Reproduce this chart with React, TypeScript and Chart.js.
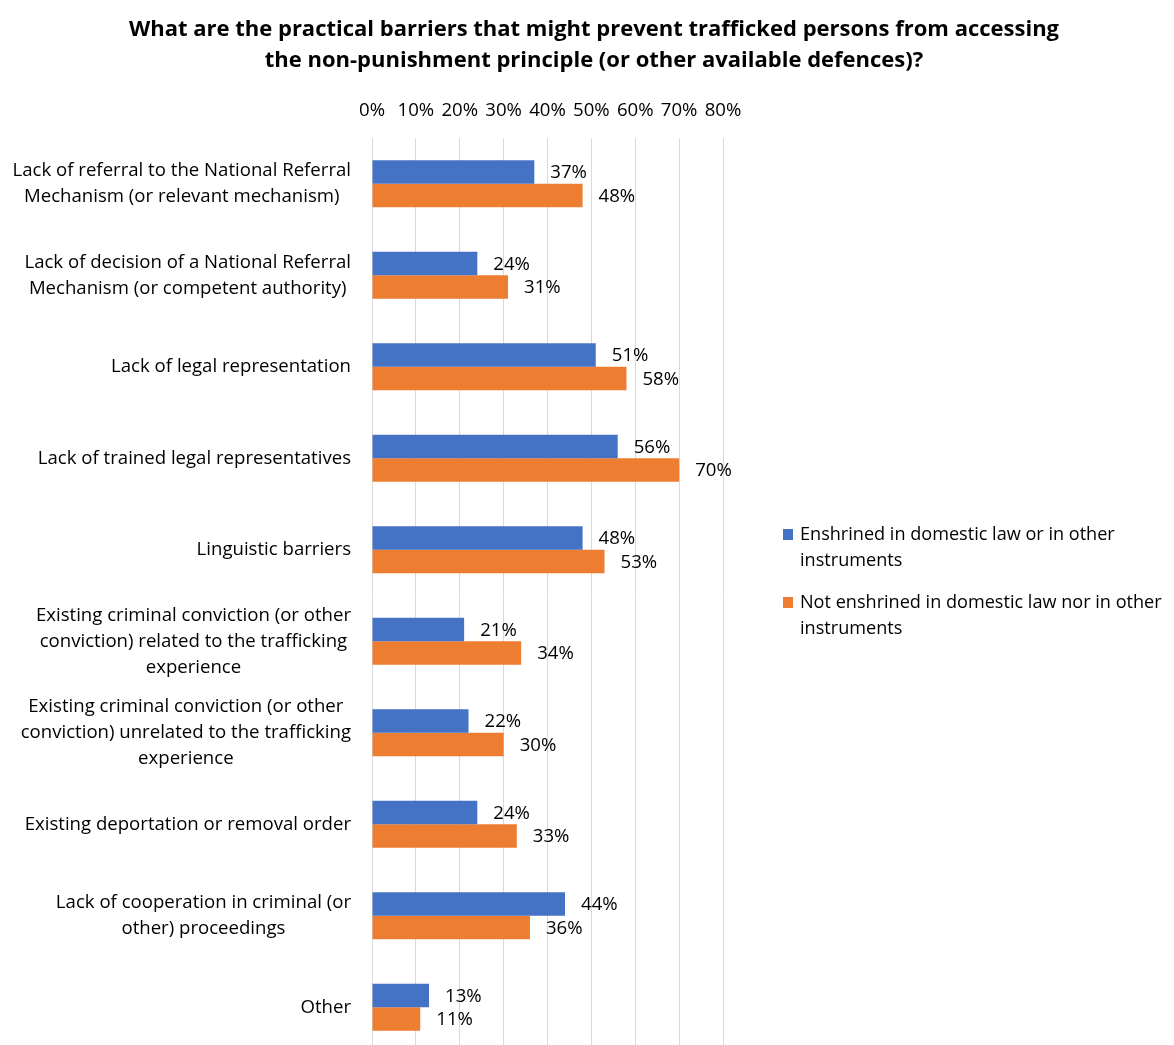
import React, { useEffect, useRef } from "react";
import { Chart, registerables } from "chart.js";

Chart.register(...registerables);

const FONT = "'Open Sans', Lato, sans-serif";
const FS = 18.6;

const titleLines = [
  "What are the practical barriers that might prevent trafficked persons from accessing",
  "the non-punishment principle (or other available defences)?",
];

const categories: string[][] = [
  ["Lack of referral to the National Referral", "Mechanism (or relevant mechanism)"],
  ["Lack of decision of a National Referral", "Mechanism (or competent authority)"],
  ["Lack of legal representation"],
  ["Lack of trained legal representatives"],
  ["Linguistic barriers"],
  ["Existing criminal conviction (or other", "conviction) related to the trafficking", "experience"],
  ["Existing criminal conviction (or other", "conviction) unrelated to the trafficking", "experience"],
  ["Existing deportation or removal order"],
  ["Lack of cooperation in criminal (or", "other) proceedings"],
  ["Other"],
];

const enshrinedValues = [37, 24, 51, 56, 48, 21, 22, 24, 44, 13];
const notEnshrinedValues = [48, 31, 58, 70, 53, 34, 30, 33, 36, 11];

const seriesLabels: string[][] = [
  ["Enshrined in domestic law or in other", "instruments"],
  ["Not enshrined in domestic law nor in other", "instruments"],
];
const seriesColors = ["#4472C4", "#ED7D31"];

const xTicks = [0, 10, 20, 30, 40, 50, 60, 70, 80];

const customPlugin = {
  id: "custom",
  afterDraw(chart: any) {
    const ctx = chart.ctx as CanvasRenderingContext2D;
    ctx.save();
    // Title
    ctx.fillStyle = "#000";
    ctx.font = `bold 22px ${FONT}`;
    ctx.textAlign = "center";
    ctx.textBaseline = "middle";
    titleLines.forEach((t, i) => ctx.fillText(t, 594, 30 + i * 31));

    // Category labels
    const yScale = chart.scales.y;
    ctx.font = `${FS}px ${FONT}`;
    const labelRight = chart.chartArea.left - 21;
    (chart.data.labels as string[][]).forEach((lines, i) => {
      const cy = yScale.getPixelForValue(i);
      const w = Math.max(...lines.map((l) => ctx.measureText(l).width));
      const cx = labelRight - w / 2;
      const lh = 26;
      const startY = cy - ((lines.length - 1) * lh) / 2;
      ctx.textAlign = "center";
      ctx.fillStyle = "#000";
      lines.forEach((l, j) => ctx.fillText(l, cx, startY + j * lh));
    });

    // Data labels
    ctx.textAlign = "left";
    chart.data.datasets.forEach((ds: any, di: number) => {
      const meta = chart.getDatasetMeta(di);
      meta.data.forEach((el: any, i: number) => {
        ctx.fillText(`${ds.data[i]}%`, el.x + 16, el.y + 1);
      });
    });

    // Legend
    ctx.font = `18.1px ${FONT}`;
    const legendTops = [535, 603];
    seriesLabels.forEach((lines, i) => {
      ctx.fillStyle = seriesColors[i];
      ctx.fillRect(783, legendTops[i] - 6, 10, 11);
      ctx.fillStyle = "#000";
      lines.forEach((l, j) => ctx.fillText(l, 800, legendTops[i] + j * 26));
    });
    ctx.restore();
  },
};

export default function App() {
  const ref = useRef<HTMLCanvasElement | null>(null);
  useEffect(() => {
    if (!ref.current) return;
    const chart = new Chart(ref.current, {
      type: "bar",
      data: {
        labels: categories as any,
        datasets: [
          {
            label: seriesLabels[0].join(" "),
            data: enshrinedValues,
            backgroundColor: seriesColors[0],
            categoryPercentage: 0.514,
            barPercentage: 1,
          },
          {
            label: seriesLabels[1].join(" "),
            data: notEnshrinedValues,
            backgroundColor: seriesColors[1],
            categoryPercentage: 0.514,
            barPercentage: 1,
          },
        ],
      },
      options: {
        indexAxis: "y",
        animation: false,
        responsive: false,
        devicePixelRatio: 1,
        layout: { padding: { top: 78, left: 372, right: 451, bottom: 7 } },
        plugins: {
          legend: { display: false },
          title: { display: false },
          tooltip: { enabled: false },
        },
        scales: {
          x: {
            position: "top",
            min: 0,
            max: 80,
            afterBuildTicks: (scale: any) => {
              scale.ticks = xTicks.map((v) => ({ value: v }));
            },
            afterFit: (scale: any) => {
              scale.height = 60;
            },
            ticks: {
              callback: (v: any) => `${v}%`,
              color: "#000",
              font: { family: FONT, size: FS },
              padding: 16,
              maxRotation: 0,
              autoSkip: false,
            },
            grid: { color: "#D9D9D9", lineWidth: 1, drawTicks: false },
            border: { display: false },
          },
          y: {
            ticks: { display: false },
            grid: { display: false },
            border: { display: false },
            afterFit: (scale: any) => {
              scale.width = 0;
            },
          },
        },
      },
      plugins: [customPlugin],
    });
    return () => chart.destroy();
  }, []);
  return (
    <div
      style={{
        position: "absolute",
        left: 0,
        top: 0,
        width: 1174,
        height: 1045,
        overflow: "hidden",
        background: "#fff",
      }}
    >
      <canvas ref={ref} width={1174} height={1060} style={{ display: "block" }} />
    </div>
  );
}
